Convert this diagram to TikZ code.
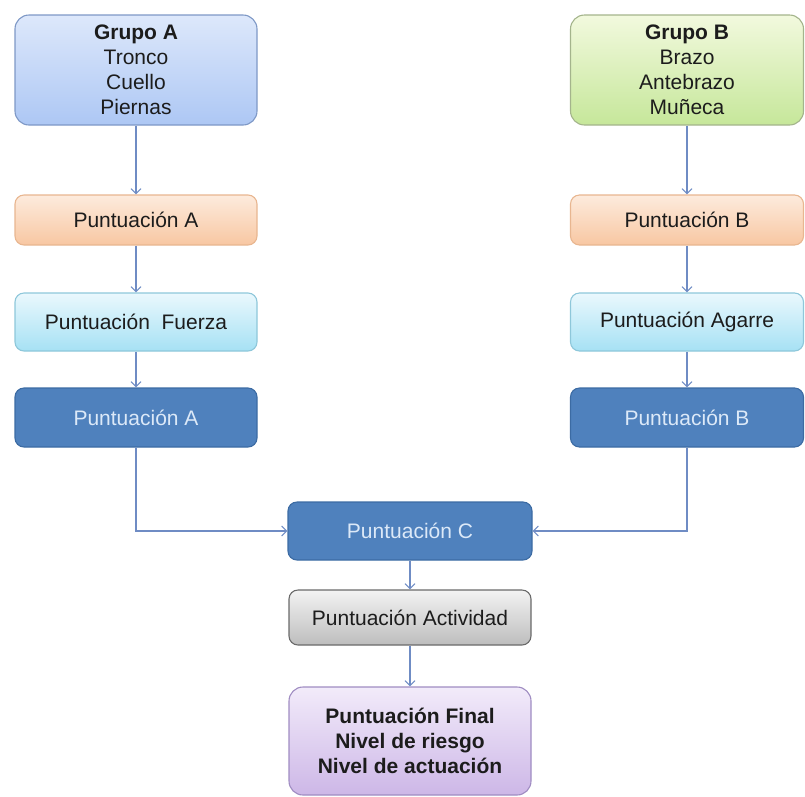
\documentclass[tikz,border=0pt]{standalone}
\usepackage{fontspec}
\setmainfont{Liberation Sans}
\usetikzlibrary{arrows.meta}

\definecolor{linkblue}{HTML}{6F8CC4}
\definecolor{txtdark}{HTML}{1C1C1C}
\definecolor{txtlight}{HTML}{DCE9F8}
\definecolor{gaEdge}{HTML}{7E98C6}\definecolor{gaTop}{HTML}{DDE8FB}\definecolor{gaBot}{HTML}{ADC7F4}
\definecolor{gbEdge}{HTML}{A4B48C}\definecolor{gbTop}{HTML}{F2F9DE}\definecolor{gbBot}{HTML}{C6E79A}
\definecolor{orEdge}{HTML}{E8B690}\definecolor{orTop}{HTML}{FDEBDD}\definecolor{orBot}{HTML}{F8C7A2}
\definecolor{cyEdge}{HTML}{8EC7DA}\definecolor{cyTop}{HTML}{EAF8FD}\definecolor{cyBot}{HTML}{A6E1F4}
\definecolor{dkEdge}{HTML}{3C6BA3}\definecolor{dkFill}{HTML}{4F81BD}
\definecolor{gyEdge}{HTML}{6A6A6A}\definecolor{gyTop}{HTML}{F3F3F3}\definecolor{gyBot}{HTML}{BDBDBD}
\definecolor{puEdge}{HTML}{9F8CC2}\definecolor{puTop}{HTML}{F2EBFA}\definecolor{puBot}{HTML}{CDB7E7}

\tikzset{
  box/.style={draw, line width=1.1pt, rounded corners=9pt, align=center,
    text=txtdark, inner sep=0pt, font=\fontsize{21}{25}\selectfont},
  grpa/.style={box, draw=gaEdge, top color=gaTop, bottom color=gaBot, rounded corners=14pt},
  grpb/.style={box, draw=gbEdge, top color=gbTop, bottom color=gbBot, rounded corners=14pt},
  orangebox/.style={box, draw=orEdge, top color=orTop, bottom color=orBot},
  cyanbox/.style={box, draw=cyEdge, top color=cyTop, bottom color=cyBot},
  darkbox/.style={box, draw=dkEdge, fill=dkFill, text=txtlight},
  greybox/.style={box, draw=gyEdge, top color=gyTop, bottom color=gyBot},
  purplebox/.style={box, draw=puEdge, top color=puTop, bottom color=puBot, rounded corners=14pt},
  link/.style={draw=linkblue, line width=1.1pt, -{Straight Barb[length=5pt,width=10pt]}},
  leftcol/.style={minimum width=242pt},
  rightcol/.style={minimum width=233pt},
}

\begin{document}
\begin{tikzpicture}[x=1pt,y=-1pt]
  \useasboundingbox (0,0) rectangle (805,796);

  % left column
  \node[grpa, leftcol, minimum height=110pt] (ga) at (136,70)
    {\textbf{Grupo A}\\Tronco\\Cuello\\Piernas};
  \node[orangebox, leftcol, minimum height=50pt] (pa) at (136,220) {Puntuación A};
  \node[cyanbox, leftcol, minimum height=58pt] (pf) at (136,322) {Puntuación\ \ Fuerza};
  \node[darkbox, leftcol, minimum height=59pt] (pa2) at (136,417.5) {Puntuación A};

  % right column
  \node[grpb, rightcol, minimum height=110pt] (gb) at (687,70)
    {\textbf{Grupo B}\\Brazo\\Antebrazo\\Muñeca};
  \node[orangebox, rightcol, minimum height=50pt] (pb) at (687,220) {Puntuación B};
  \node[cyanbox, rightcol, minimum height=58pt] (pg) at (687,322) {Puntuación Agarre};
  \node[darkbox, rightcol, minimum height=59pt] (pb2) at (687,417.5) {Puntuación B};

  % centre column
  \node[darkbox, minimum width=244pt, minimum height=58pt] (pc) at (410,531) {Puntuación C};
  \node[greybox, minimum width=242pt, minimum height=55pt] (pact) at (410,617.5) {Puntuación Actividad};
  \node[purplebox, minimum width=242pt, minimum height=108pt] (pfin) at (410,741)
    {\textbf{Puntuación Final}\\\textbf{Nivel de riesgo}\\\textbf{Nivel de actuación}};

  % connectors
  \draw[link] (ga) -- (pa);
  \draw[link] (pa) -- (pf);
  \draw[link] (pf) -- (pa2);
  \draw[link] (gb) -- (pb);
  \draw[link] (pb) -- (pg);
  \draw[link] (pg) -- (pb2);
  \draw[link] (pa2.south) |- (pc.west);
  \draw[link] (pb2.south) |- (pc.east);
  \draw[link] (pc) -- (pact);
  \draw[link] (pact) -- (pfin);
\end{tikzpicture}
\end{document}
